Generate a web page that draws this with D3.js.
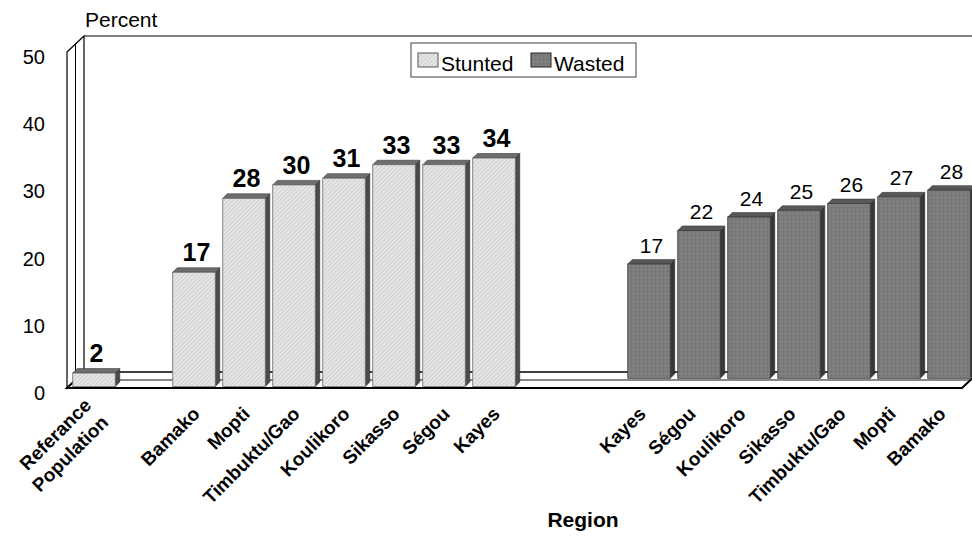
<!DOCTYPE html>
<html>
<head>
<meta charset="utf-8">
<script src="https://cdn.jsdelivr.net/npm/d3@7"></script>
<style>
  body { margin: 0; background: #fff; }
  svg { display: block; font-family: "Liberation Sans", Arial, Helvetica, sans-serif; }
</style>
</head>
<body>
<svg id="chart" width="972" height="556"></svg>
<script>
// Category slots along the floor ("|" splits a label over two lines, "" is an empty slot)
const regions = ["Referance|Population", "", "Bamako", "Mopti", "Timbuktu/Gao", "Koulikoro", "Sikasso", "Ségou", "Kayes",
                 "", "", "Kayes", "Ségou", "Koulikoro", "Sikasso", "Timbuktu/Gao", "Mopti", "Bamako"];
// Percent of children, per region
const stunted = [2, null, 17, 28, 30, 31, 33, 33, 34, null, null, null, null, null, null, null, null, null];
const wasted  = [null, null, null, null, null, null, null, null, null, null, null, 17, 22, 24, 25, 26, 27, 28];
const seriesNames = ["Stunted", "Wasted"];
const yTicks = [0, 10, 20, 30, 40, 50];

const svg = d3.select("#chart");
const W = 972;

const x = d3.scaleBand().domain(d3.range(regions.length)).range([69, 969])
  .paddingInner(0.15).paddingOuter(0.075);
const y = d3.scaleLinear().domain([0, 50]).range([388, 52]);

// 3-D box: depth vector from the front plane to the back wall
const D = { dx: 17, dy: -16 };
const x0 = 67;                // front edge of the side wall
const yTop = y(50), yBase = y(0);

// patterns
const defs = svg.append("defs");
const hatch = defs.append("pattern").attr("id", "hatch").attr("patternUnits", "userSpaceOnUse")
  .attr("width", 3).attr("height", 3).attr("patternTransform", "rotate(45)");
hatch.append("rect").attr("width", 3).attr("height", 3).attr("fill", "#e6e6e6");
hatch.append("rect").attr("width", 1).attr("height", 3).attr("fill", "#cfcfcf");
const dots = defs.append("pattern").attr("id", "dots").attr("patternUnits", "userSpaceOnUse")
  .attr("width", 4).attr("height", 4);
dots.append("rect").attr("width", 4).attr("height", 4).attr("fill", "#7c7c7c");
dots.append("rect").attr("x", 1).attr("y", 1).attr("width", 1).attr("height", 1).attr("fill", "#8e8e8e");
dots.append("rect").attr("x", 3).attr("y", 3).attr("width", 1).attr("height", 1).attr("fill", "#6e6e6e");

const frame = svg.append("g");
// back wall
frame.append("line").attr("x1", x0 + D.dx).attr("x2", W + 5).attr("y1", yTop + D.dy).attr("y2", yTop + D.dy)
  .attr("stroke", "#000").attr("stroke-width", 1.2);
// side wall
frame.append("path")
  .attr("d", `M${x0},${yTop}L${x0 + D.dx},${yTop + D.dy}L${x0 + D.dx},${yBase + D.dy}L${x0},${yBase}Z`)
  .attr("fill", "#fff").attr("stroke", "#000").attr("stroke-width", 1.2);
frame.append("line").attr("x1", x0 + D.dx / 2).attr("x2", x0 + D.dx / 2)
  .attr("y1", yTop + D.dy / 2).attr("y2", yBase + D.dy / 2)
  .attr("stroke", "#000").attr("stroke-width", 1);
// floor slab
const floorRight = 962;
frame.append("path")
  .attr("d", `M${x0},${yBase}L${x0 + D.dx},${yBase + D.dy}L${floorRight + D.dx},${yBase + D.dy}L${floorRight},${yBase}Z`)
  .attr("fill", "#fff").attr("stroke", "none");
frame.append("line").attr("x1", x0 + D.dx).attr("x2", W + 5).attr("y1", yBase + D.dy).attr("y2", yBase + D.dy)
  .attr("stroke", "#000").attr("stroke-width", 1.3);
frame.append("line").attr("x1", x0 + D.dx / 2).attr("x2", floorRight + D.dx / 2)
  .attr("y1", yBase + D.dy / 2).attr("y2", yBase + D.dy / 2)
  .attr("stroke", "#888").attr("stroke-width", 1.8);
frame.append("path")
  .attr("d", `M${x0 + D.dx},${yBase + D.dy}L${x0},${yBase}L${floorRight},${yBase}L${floorRight + D.dx},${yBase + D.dy}`)
  .attr("fill", "none").attr("stroke", "#000").attr("stroke-width", 2);

// bar rows: stunted in the front row, wasted one row behind
const rows = [
  { key: "Stunted", values: stunted, dx: 0, dy: -1.5, front: "url(#hatch)", stroke: "#6a6a6a",
    top: "#6e6e6e", side: "#4a4a4a", labelWeight: "bold", labelSize: 25, labelGap: 11, tickDx: 7 },
  { key: "Wasted", values: wasted, dx: 5, dy: -9.7, front: "url(#dots)", stroke: "#3a3a3a",
    top: "#585858", side: "#383838", labelWeight: "normal", labelSize: 21, labelGap: 11.5, tickDx: 3 }
];
const d = 4.5;   // bar depth
const bw = x.bandwidth();

rows.forEach(row => {
  const data = row.values.map((v, i) => ({ i, v })).filter(e => e.v != null);
  const g = svg.append("g").attr("class", "bars-" + row.key);
  const bar = g.selectAll("g").data(data).join("g");
  const L = e => x(e.i) + row.dx, R = e => x(e.i) + row.dx + bw;
  const T = e => y(e.v) + row.dy, B = () => y(0) + row.dy;
  bar.append("path").attr("fill", row.side).attr("stroke", "#2a2a2a").attr("stroke-width", 0.6)
    .attr("d", e => `M${R(e)},${T(e)}L${R(e) + d},${T(e) - d}L${R(e) + d},${B() - d}L${R(e)},${B()}Z`);
  bar.append("path").attr("fill", row.top).attr("stroke", "#3a3a3a").attr("stroke-width", 0.6)
    .attr("d", e => `M${L(e)},${T(e)}L${L(e) + d},${T(e) - d}L${R(e) + d},${T(e) - d}L${R(e)},${T(e)}Z`);
  bar.append("rect").attr("x", L).attr("y", T).attr("width", bw).attr("height", e => B() - T(e))
    .attr("fill", row.front).attr("stroke", row.stroke).attr("stroke-width", 0.8);
  g.selectAll("text").data(data).join("text")
    .attr("x", e => L(e) + bw / 2 + 2.5).attr("y", e => T(e) - row.labelGap)
    .attr("text-anchor", "middle").attr("font-size", row.labelSize).attr("font-weight", row.labelWeight)
    .attr("fill", "#000").text(e => e.v);

  // category labels for this row
  const idx = data.map(e => e.i);
  const ax = svg.append("g").attr("transform", "translate(0,415)")
    .call(d3.axisBottom(x).tickValues(idx).tickSize(0).tickFormat(i => regions[i]));
  ax.select(".domain").remove();
  ax.selectAll("text").each(function (i) {
    const t = d3.select(this);
    const lines = regions[i].split("|");
    t.text(null).attr("x", 0).attr("y", 0).attr("dy", null)
      .attr("text-anchor", "end").attr("transform", `translate(${row.tickDx},0) rotate(-45)`)
      .attr("font-size", 19).attr("font-weight", "bold").attr("font-family", null).attr("fill", "#000");
    const lh = 24;
    lines.forEach((s, k) => {
      t.append("tspan").attr("x", 0).attr("y", (k - (lines.length - 1) / 2) * lh).text(s);
    });
  });
});

// value axis labels
const yAxis = svg.append("g").attr("transform", "translate(45,5)")
  .call(d3.axisLeft(y).tickValues(yTicks).tickSize(0).tickPadding(0));
yAxis.select(".domain").remove();
yAxis.selectAll("text").attr("font-size", 20).attr("font-family", null).attr("fill", "#000");

svg.append("text").attr("x", 85).attr("y", 27).attr("font-size", 21).text("Percent");
svg.append("text").attr("x", 583).attr("y", 527).attr("text-anchor", "middle")
  .attr("font-size", 21).attr("font-weight", "bold").text("Region");

// legend
const lg = svg.append("g");
lg.append("rect").attr("x", 411).attr("y", 43).attr("width", 225).attr("height", 34)
  .attr("fill", "#fff").attr("stroke", "#404040").attr("stroke-width", 1);
const items = [
  { name: seriesNames[0], fill: "url(#hatch)", stroke: "#555", sx: 418 },
  { name: seriesNames[1], fill: "url(#dots)", stroke: "#222", sx: 531 }
];
const it = lg.selectAll("g").data(items).join("g");
it.append("rect").attr("x", e => e.sx).attr("y", 53).attr("width", 20).attr("height", 14)
  .attr("fill", e => e.fill).attr("stroke", e => e.stroke).attr("stroke-width", 1);
it.append("text").attr("x", e => e.sx + 23).attr("y", 70.5).attr("font-size", 21).text(e => e.name);
</script>
</body>
</html>
